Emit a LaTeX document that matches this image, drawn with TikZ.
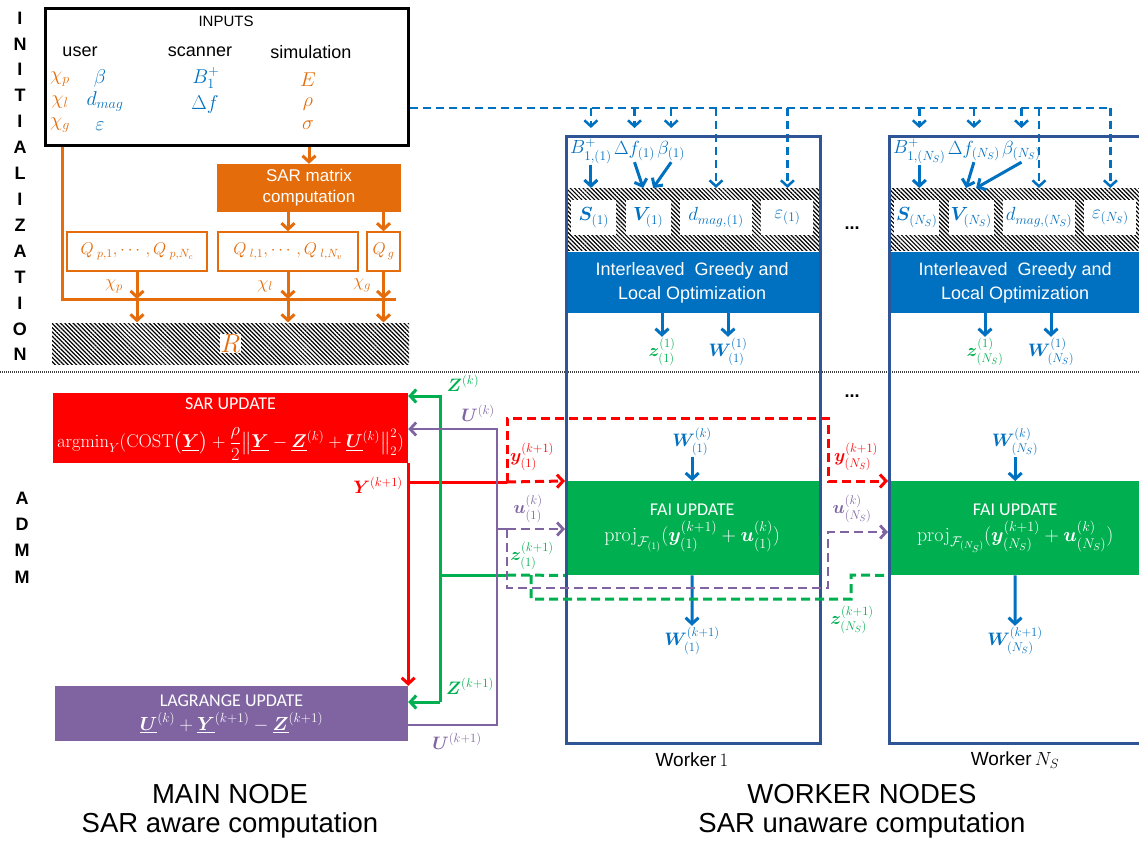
\documentclass[tikz,border=0pt]{standalone}
\usepackage{fix-cm}
\usepackage{amsmath,amssymb,bm}
\usepackage[no-math]{fontspec}
\setmainfont{Liberation Sans}
\newfontfamily\calibri{Carlito}
\usetikzlibrary{arrows.meta,positioning,patterns.meta}

\definecolor{sarorange}{HTML}{E46C0A}
\definecolor{inblue}{HTML}{0070C0}
\definecolor{faigreen}{HTML}{00B050}
\definecolor{lagpurple}{HTML}{8064A2}
\definecolor{sarred}{HTML}{FF0000}
\definecolor{workframe}{HTML}{2F5597}

\tikzset{
  hatch/.style={pattern={Lines[angle=-45,distance=3pt,line width=1.2pt]}},
  obox/.style={draw=sarorange,line width=1.5pt,fill=white,minimum height=39pt,inner sep=0pt,text=sarorange},
  wbox/.style={fill=white,text=inblue,minimum height=35pt,inner sep=1pt,font=\fontsize{19}{19}\selectfont},
  oline/.style={sarorange,line width=3pt},
  bline/.style={inblue,line width=3pt},
  bdash/.style={inblue,line width=2.5pt,dash pattern=on 8pt off 5pt},
  rline/.style={sarred,line width=3pt},
  gline/.style={faigreen,line width=3pt},
  pline/.style={lagpurple,line width=2.8pt},
  rdash/.style={rline,dash pattern=on 9pt off 5pt},
  gdash/.style={gline,dash pattern=on 9pt off 5pt},
  pdash/.style={pline,dash pattern=on 9pt off 5pt},
  inmath/.style={font=\fontsize{20}{20}\selectfont},
}

\begin{document}
\begin{tikzpicture}[x=1pt,y=-1pt,>={Straight Barb[length=6pt,width=13pt]},
  font=\fontsize{18}{20}\selectfont,every node/.style={inner sep=1pt}]
\useasboundingbox (0,0) rectangle (1139,844);

% phase letters on the left
\foreach \c [count=\i from 0] in {I,N,I,T,I,A,L,I,Z,A,T,I,O,N}
  \node (ini\i) [font=\fontsize{18}{18}\selectfont\bfseries] at (20,18+25.9*\i) {\c};
\foreach \c [count=\i from 0] in {A,D,M,M}
  \node (adm\i) [font=\fontsize{18}{18}\selectfont\bfseries] at (22,498+26.3*\i) {\c};
\draw[black!75,line width=1.2pt,dash pattern=on 1pt off 1pt] (0,372) -- (1139,372);

%% initialization
\node (inp) [draw=black,line width=3pt,minimum width=363pt,minimum height=137pt,inner sep=0pt] at (226.5,76.5) {};
\node (inptitle) [font=\fontsize{15}{15}\selectfont] at (226,21) {INPUTS};
\node (user) [font=\fontsize{18}{18}\selectfont] at (80,52) {user};
\node (scan) [font=\fontsize{18}{18}\selectfont] at (200,52) {scanner};
\node (simu) [font=\fontsize{18}{18}\selectfont] at (311,52) {simulation};
\node (chip) [inmath,text=sarorange] at (60,79) {$\chi_p$};
\node (chil) [inmath,text=sarorange] at (60,102) {$\chi_l$};
\node (chig) [inmath,text=sarorange] at (60,125) {$\chi_g$};
\node (beta) [inmath,text=inblue] at (100,78) {$\beta$};
\node (dmag) [inmath,text=inblue] at (105,101) {$d_{mag}$};
\node (eps) [inmath,text=inblue] at (100,126) {$\varepsilon$};
\node (bone) [inmath,text=inblue] at (206,78) {$B_1^+$};
\node (df) [inmath,text=inblue] at (205,104) {$\Delta f$};
\node (efld) [inmath,text=sarorange] at (308,80) {$E$};
\node (rho) [inmath,text=sarorange] at (308,104) {$\rho$};
\node (sig) [inmath,text=sarorange] at (308,125) {$\sigma$};

\node (sarm) [fill=sarorange,text=white,minimum width=184pt,minimum height=48pt,inner sep=0pt,align=center,font=\fontsize{17}{21}\selectfont] at (309,188) {SAR matrix\\computation};
\node (qp) [obox,minimum width=140pt,font=\fontsize{17}{17}\selectfont] at (137,251.5) {$Q_{\;p,1},\cdots,Q_{\;p,N_c}$};
\node (ql) [obox,minimum width=140pt,font=\fontsize{17}{17}\selectfont] at (288,251.5) {$Q_{\;l,1},\cdots,Q_{\;l,N_v}$};
\node (qg) [obox,minimum width=33pt,font=\fontsize{17}{17}\selectfont] at (383.5,251.5) {$Q_{\,g}$};
\node (rbar) [hatch,minimum width=357pt,minimum height=41pt,inner sep=0pt] at (230.5,343.5) {};
\node (rlab) [fill=white,text=sarorange,font=\fontsize{26}{26}\selectfont] at (rbar) {$R$};

\coordinate (bus0) at (62,299);
\coordinate (bus1) at (396,299);
\draw[oline] (inp.south -| bus0) -- (bus0) -- (bus1);
\draw[oline,->] (inp.south -| sarm) -- (sarm.north);
\draw[oline,->] (sarm.south -| ql) -- (ql.north);
\draw[oline,->] (sarm.south -| qg) -- (qg.north);
\foreach \q in {qp,ql,qg} {
  \draw[oline,->] (\q.south) -- (\q.south |- bus0);
  \draw[oline,->] (\q.south |- bus0) -- (\q.south |- rbar.north);
}
\node (lchip) [text=sarorange] at (114,286) {$\chi_p$};
\node (lchil) [text=sarorange] at (265,286) {$\chi_l$};
\node (lchig) [text=sarorange] at (362,285) {$\chi_g$};

\coordinate (tr0) at (inp.east |- 0,108);

%% worker nodes
\foreach \L/\k/\ix in {565/1/{1},888/N/{N_S}} {
  \node (b\k) [text=inblue,anchor=west,font=\fontsize{19}{19}\selectfont] at (\L+4,151) {$B^+_{1,(\ix)}$};
  \node (df\k) [text=inblue,right=0pt of b\k,font=\fontsize{19}{19}\selectfont] {$\Delta f_{(\ix)}$};
  \node (be\k) [text=inblue,right=0pt of df\k,font=\fontsize{19}{19}\selectfont] {$\beta_{(\ix)}$};
  \node (strip\k) [hatch,minimum width=254pt,minimum height=62pt,inner sep=0pt,anchor=north west] at (\L,188) {};
  \node (s\k) [wbox,minimum width=45pt,anchor=west] at (\L+6,217.5) {$\bm S_{(\ix)}$};
  \node (v\k) [wbox,minimum width=45pt,right=9pt of s\k] {$\bm V_{(\ix)}$};
  \node (d\k) [wbox,minimum width=72pt,right=9pt of v\k] {$d_{mag,(\ix)}$};
  \node (e\k) [wbox,minimum width=52pt,right=9pt of d\k] {$\varepsilon_{(\ix)}$};
  \coordinate (vin\k) at (v\k.north |- strip\k.north);
  \foreach \n in {b,df,be}
    \draw[bdash,->] (\n\k.north |- tr0) -- (\n\k.north |- 0,128);
  \draw[bdash,->] (d\k.north |- tr0) -- (d\k.north |- strip\k.north);
  \draw[bdash,->] (e\k.north |- tr0) -- (e\k.north |- strip\k.north);
  \draw[bline,->] (b\k.south) -- (b\k.south |- strip\k.north);
  \draw[bline,->] (df\k.south) -- ([xshift=-5pt]vin\k);
  \draw[bline,->] (be\k.south) -- ([xshift=5pt]vin\k);
  \node (iglo\k) [fill=inblue,text=white,minimum width=254pt,minimum height=61pt,inner sep=0pt,anchor=north west,align=center,font=\fontsize{18}{24}\selectfont] at (\L,252) {Interleaved\ \ Greedy and\\Local Optimization};
  \node (z\k) [text=faigreen] at (\L+97,352) {$\bm z^{(1)}_{(\ix)}$};
  \node (w\k) [text=inblue] at (\L+163,352) {$\bm W^{(1)}_{(\ix)}$};
  \draw[bline,->] (iglo\k.south -| z\k) -- (z\k.north);
  \draw[bline,->] (iglo\k.south -| w\k) -- (w\k.north);
  % admm part of the worker
  \node (fai\k) [fill=faigreen,text=white,minimum width=254pt,minimum height=94pt,inner sep=0pt,anchor=north west,align=center,font=\fontsize{20}{20}\selectfont] at (\L,481) {{\calibri\fontsize{18}{18}\selectfont FAI UPDATE}\\[4pt]$\mathrm{proj}_{\mathcal F_{(\ix)}}(\bm y^{(k+1)}_{(\ix)}+\bm u^{(k)}_{(\ix)})$};
  \node (wk\k) [text=inblue] at (\L+127,442) {$\bm W^{(k)}_{(\ix)}$};
  \node (wn\k) [text=inblue] at (\L+127,641) {$\bm W^{(k+1)}_{(\ix)}$};
  \draw[bline,->] (wk\k.south -| fai\k) -- (fai\k.north);
  \draw[bline,->] (fai\k.south) -- (wn\k.north);
  \node (box\k) [draw=workframe,line width=2.5pt,minimum width=254pt,minimum height=607pt,inner sep=0pt,anchor=north west] at (\L,135) {};
  \node (wlab\k) [font=\fontsize{19}{19}\selectfont] at (\L+127,760) {Worker\,$\ix$};
}
\draw[bdash] (tr0) -- (eN.north |- tr0);
\node (dots1) [font=\fontsize{18}{18}\selectfont\bfseries] at (852,228) {...};
\node (dots2) [font=\fontsize{18}{18}\selectfont\bfseries] at (852,396) {...};

%% admm on the main node
\node (sarup) [fill=sarred,minimum width=355pt,minimum height=70pt,inner sep=0pt] at (230.5,428) {};
\node (sartitle) [text=white,font=\calibri\fontsize{18}{18}\selectfont] at (230.5,404) {SAR UPDATE};
\node (sarform) [text=white,font=\fontsize{18.5}{18.5}\selectfont,inner sep=0pt] at (230.5,444) {$\mathrm{argmin}_{Y}(\mathrm{COST}\bigl(\underline{\bm Y}\bigr)+\dfrac{\rho}{2}\bigl\|\underline{\bm Y}-\underline{\bm Z}^{(k)}+\underline{\bm U}^{(k)}\bigr\|_2^2)$};
\node (lagr) [fill=lagpurple,minimum width=353pt,minimum height=55pt,inner sep=0pt] at (231.5,713.5) {};
\node (lagtitle) [text=white,font=\calibri\fontsize{18}{18}\selectfont] at (231.5,701) {LAGRANGE UPDATE};
\node (lagform) [text=white,font=\fontsize{19}{19}\selectfont,inner sep=0pt] at (231.5,723) {$\underline{\bm U}^{(k)}+\underline{\bm Y}^{(k+1)}-\underline{\bm Z}^{(k+1)}$};

% Y: main node -> lagrange and workers
\coordinate (yh) at (sarup.east |- 0,482);
\coordinate (yd) at (507,482);
\coordinate (yr) at (828,418);
\draw[rline,->] (sarup.south east) -- (lagr.north east);
\draw[rline] (yh) -- (yd);
\draw[rdash,->] (yd) -- (fai1.north west);
\draw[rdash,->] (yd) |- (yr) |- (faiN.north west);

% Z: workers -> main node
\coordinate (zv0) at (440,396);
\coordinate (zv1) at (440,702);
\coordinate (zh) at (440,575);
\coordinate (zd) at (507,575);
\coordinate (zb) at (531,575);
\coordinate (zr) at (851,575);
\draw[gline,->] (zv1) -- (zv0) -- (zv0 -| sarup.east);
\draw[gline,->] (zv1) -- (zv1 -| lagr.east);
\draw[gline] (zh) -- (zd);
\draw[gdash] (zd) -- (fai1.south west);
\draw[gdash] (zb) -- (zb |- 0,599) -| (zr) -- (faiN.south west);

% U: lagrange -> sar update and workers
\coordinate (uv0) at (497,429);
\coordinate (uv1) at (497,725);
\coordinate (uh) at (497,529);
\coordinate (ud) at (507,529);
\coordinate (ur) at (828,588);
\coordinate (u1in) at (fai1.west |- ud);
\coordinate (uNin) at (faiN.west |- 0,532);
\draw[pline,->] (lagr.east |- uv1) -- (uv1) -- (uv0) -- (uv0 -| sarup.east);
\draw[pline] (uh) -- (ud);
\draw[pdash,->] (ud) -- (u1in);
\draw[pdash,->] (ud) |- (ur) |- (uNin);

% variable labels
\node (lzk) [text=faigreen] at (463,383) {$\bm Z^{(k)}$};
\node (luk) [text=lagpurple] at (478,413) {$\bm U^{(k)}$};
\node (lyk) [text=sarred,anchor=east] at (404,485) {$\bm Y^{(k+1)}$};
\node (lzk1) [text=faigreen] at (470,686) {$\bm Z^{(k+1)}$};
\node (luk1) [text=lagpurple] at (457,741) {$\bm U^{(k+1)}$};
\node (ly1) [text=sarred] at (532,457) {$\bm y^{(k+1)}_{(1)}$};
\node (lu1) [text=lagpurple] at (528,509) {$\bm u^{(k)}_{(1)}$};
\node (lz1) [text=faigreen] at (532,556) {$\bm z^{(k+1)}_{(1)}$};
\node (lyN) [text=sarred] at (856,457) {$\bm y^{(k+1)}_{(N_S)}$};
\node (luN) [text=lagpurple] at (852,509) {$\bm u^{(k)}_{(N_S)}$};
\node (lzN) [text=faigreen] at (852,620) {$\bm z^{(k+1)}_{(N_S)}$};

% captions
\node (mainlab) [align=center,font=\fontsize{27.5}{29}\selectfont] at (230,811) {MAIN NODE\\SAR aware computation};
\node (worklab) [align=center,font=\fontsize{27.5}{29}\selectfont] at (862,811) {WORKER NODES\\SAR unaware computation};
\end{tikzpicture}
\end{document}
